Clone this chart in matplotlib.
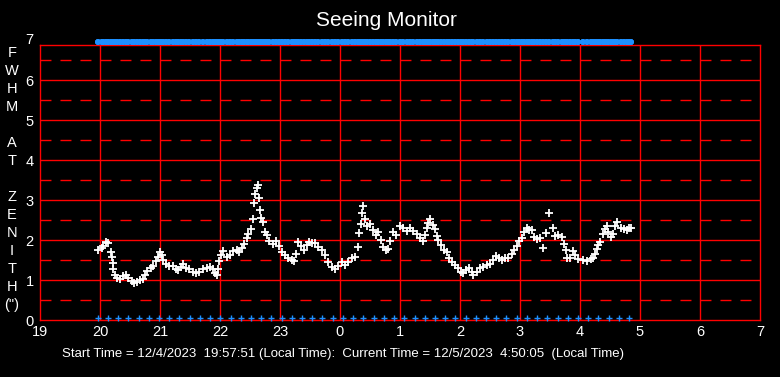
import matplotlib
matplotlib.use('Agg')
import matplotlib.pyplot as plt

plt.rcParams['font.family'] = ['Liberation Sans', 'DejaVu Sans']
plt.rcParams['lines.scale_dashes'] = False

# seeing samples: local time in hours (24+ = after midnight), FWHM in arcsec
times = [19.972, 20.028, 20.055, 20.100, 20.138, 20.178, 20.195, 20.212, 20.222, 20.250,
         20.288, 20.333, 20.388, 20.433, 20.472, 20.528, 20.572, 20.622, 20.667, 20.712,
         20.750, 20.788, 20.845, 20.888, 20.928, 20.972, 21.000, 21.028, 21.055, 21.100,
         21.155, 21.212, 21.267, 21.305, 21.345, 21.388, 21.433, 21.488, 21.545, 21.600,
         21.645, 21.722, 21.778, 21.833, 21.888, 21.917, 21.945, 21.972, 21.988, 22.012,
         22.055, 22.112, 22.167, 22.222, 22.278, 22.322, 22.362, 22.400, 22.445, 22.472,
         22.512, 22.555, 22.572, 22.588, 22.612, 22.638, 22.655, 22.672, 22.688, 22.722,
         22.750, 22.778, 22.822, 22.878, 22.933, 22.988, 23.028, 23.083, 23.138, 23.195,
         23.233, 23.267, 23.305, 23.350, 23.400, 23.445, 23.488, 23.528, 23.583, 23.638,
         23.695, 23.750, 23.805, 23.862, 23.917, 23.972, 24.028, 24.083, 24.138, 24.195,
         24.250, 24.305, 24.322, 24.345, 24.362, 24.378, 24.417, 24.455, 24.500, 24.555,
         24.600, 24.638, 24.678, 24.722, 24.767, 24.805, 24.833, 24.878, 24.933, 25.000,
         25.055, 25.112, 25.167, 25.222, 25.278, 25.333, 25.378, 25.417, 25.445, 25.472,
         25.500, 25.555, 25.583, 25.612, 25.638, 25.678, 25.733, 25.788, 25.822, 25.862,
         25.917, 25.972, 26.012, 26.055, 26.100, 26.145, 26.195, 26.222, 26.278, 26.333,
         26.388, 26.445, 26.500, 26.545, 26.600, 26.655, 26.695, 26.750, 26.805, 26.862,
         26.905, 26.945, 26.988, 27.028, 27.067, 27.112, 27.155, 27.195, 27.233, 27.278,
         27.333, 27.388, 27.433, 27.488, 27.545, 27.583, 27.638, 27.695, 27.733, 27.767,
         27.788, 27.833, 27.878, 27.917, 27.972, 28.045, 28.112, 28.178, 28.222, 28.250,
         28.278, 28.305, 28.333, 28.378, 28.417, 28.445, 28.472, 28.512, 28.545, 28.583,
         28.622, 28.678, 28.733, 28.778, 28.822, 28.845]
fwhm = [1.75, 1.79, 1.86, 1.96, 1.92, 1.71, 1.57, 1.42, 1.27, 1.12,
        1.06, 1.03, 1.11, 1.12, 1.04, 0.98, 0.93, 0.96, 1.00, 1.03,
        1.12, 1.22, 1.31, 1.36, 1.47, 1.58, 1.69, 1.62, 1.50, 1.39,
        1.36, 1.36, 1.27, 1.25, 1.33, 1.39, 1.31, 1.27, 1.21, 1.17,
        1.21, 1.27, 1.31, 1.33, 1.27, 1.17, 1.12, 1.27, 1.47, 1.62,
        1.72, 1.58, 1.62, 1.72, 1.75, 1.70, 1.79, 1.89, 2.06, 2.14,
        2.27, 2.52, 2.92, 3.14, 3.29, 3.38, 3.06, 2.75, 2.56, 2.44,
        2.21, 2.12, 1.98, 1.89, 1.98, 1.86, 1.71, 1.62, 1.56, 1.50,
        1.48, 1.64, 1.96, 1.86, 1.75, 1.88, 1.96, 1.93, 1.92, 1.82,
        1.75, 1.62, 1.46, 1.33, 1.27, 1.35, 1.46, 1.38, 1.46, 1.54,
        1.57, 1.83, 2.18, 2.40, 2.67, 2.85, 2.52, 2.35, 2.40, 2.25,
        2.12, 2.21, 2.00, 1.83, 1.75, 1.77, 1.98, 2.21, 2.12, 2.35,
        2.29, 2.23, 2.29, 2.23, 2.15, 2.04, 1.98, 2.12, 2.29, 2.42,
        2.52, 2.38, 2.27, 2.11, 2.00, 1.88, 1.75, 1.71, 1.56, 1.44,
        1.38, 1.31, 1.21, 1.17, 1.25, 1.31, 1.21, 1.12, 1.21, 1.29,
        1.33, 1.38, 1.39, 1.50, 1.61, 1.56, 1.50, 1.56, 1.54, 1.64,
        1.75, 1.86, 1.98, 2.06, 2.21, 2.31, 2.25, 2.25, 2.08, 2.03,
        2.04, 1.79, 2.18, 2.67, 2.31, 2.11, 2.12, 2.08, 1.90, 1.74,
        1.55, 1.56, 1.72, 1.62, 1.52, 1.50, 1.48, 1.52, 1.56, 1.65,
        1.77, 1.88, 1.96, 2.14, 2.27, 2.36, 2.21, 2.08, 2.14, 2.36,
        2.44, 2.31, 2.27, 2.25, 2.29, 2.29]

# blue status marks along the bottom (about every 10 min)
status_times = [19.962, 20.132, 20.302, 20.473, 20.643, 20.813, 20.983, 21.153, 21.325,
                21.495, 21.665, 21.835, 22.005, 22.177, 22.347, 22.517, 22.687, 22.857,
                23.028, 23.198, 23.368, 23.538, 23.708, 23.880, 24.050, 24.220, 24.390,
                24.560, 24.732, 24.902, 25.072, 25.242, 25.412, 25.583, 25.753, 25.923,
                26.093, 26.263, 26.435, 26.605, 26.775, 26.945, 27.115, 27.287, 27.457,
                27.627, 27.797, 27.967, 28.138, 28.308, 28.478, 28.648, 28.818]

hour_ticks = list(range(19, 32))
hour_labels = ['19', '20', '21', '22', '23', '0', '1', '2', '3', '4', '5', '6', '7']
ylabel_chars = ['F', 'W', 'H', 'M', '', 'A', 'T', '', 'Z', 'E', 'N', 'I', 'T', 'H', '(")']

W, H = 780, 377
fig = plt.figure(figsize=(W / 100, H / 100), dpi=100, facecolor='black')
ax = fig.add_axes([40 / W, 57 / H, 720 / W, 275 / H])
ax.set_facecolor('black')
ax.set_xlim(19, 31)
ax.set_ylim(0, 6.875)

# grid
for h in hour_ticks[1:-1]:
    ax.axvline(h, color='red', lw=1.0, zorder=1)
for v in range(1, 7):
    ax.axhline(v, color='red', lw=1.0, zorder=1)
for v in [0.5, 1.5, 2.5, 3.5, 4.5, 5.5, 6.5]:
    ax.axhline(v, color='red', lw=1.0, ls=(0, (7.9, 6.5)), zorder=1)
for s in ax.spines.values():
    s.set_color('red')
    s.set_linewidth(1.0)

ax.plot(times, fwhm, ls='none', marker='+', color='white', ms=5.5, mew=1.3, zorder=3)
ax.plot(times, [6.95] * len(times), ls='none', marker='+', color='#1E90FF',
        ms=4.5, mew=2.6, clip_on=False, zorder=3)
ax.plot(status_times, [0.05] * len(status_times), ls='none', marker='+', color='#1E90FF',
        ms=4.5, mew=1.0, clip_on=False, zorder=3)

ax.set_xticks(hour_ticks)
ax.set_xticklabels(hour_labels)
ax.set_yticks(range(0, 7))
ax.tick_params(colors='white', labelsize=10.5, length=0)
ax.tick_params(axis='x', pad=3.5)
ax.tick_params(axis='y', pad=4.5)
ax.annotate('7', xy=(0, 7), xycoords=('axes fraction', 'data'), xytext=(-4.5, 0),
            textcoords='offset points', ha='right', va='center', color='white',
            fontsize=10.5, annotation_clip=False)

fig.text(386 / W, 1 - 20 / H, 'Seeing Monitor', color='white', fontsize=15,
         ha='center', va='center')
for i, ch in enumerate(ylabel_chars):
    fig.text(12 / W, 1 - (52.7 + 18 * i) / H, ch, color='white', fontsize=10.5,
             ha='center', va='center')
fig.text(62 / W, 1 - 354 / H,
         'Start Time = 12/4/2023  19:57:51 (Local Time):  Current Time = 12/5/2023  4:50:05  (Local Time)',
         color='white', fontsize=9.5, ha='left', va='center')

fig.savefig('out.png', dpi=100, facecolor='black')
